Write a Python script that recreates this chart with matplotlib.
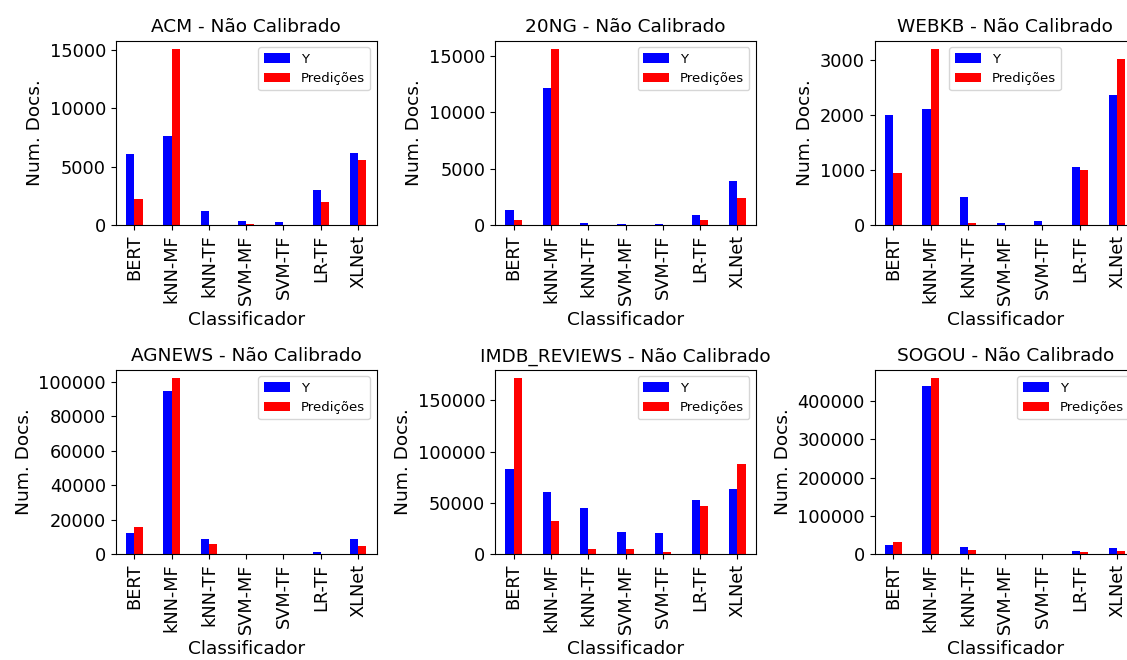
import numpy as np
import matplotlib
matplotlib.use("Agg")
import matplotlib.pyplot as plt
from matplotlib.ticker import MultipleLocator

classifiers = ["BERT", "kNN-MF", "kNN-TF", "SVM-MF", "SVM-TF", "LR-TF", "XLNet"]

titles = ["ACM", "20NG", "WEBKB", "AGNEWS", "IMDB_REVIEWS", "SOGOU"]

acm_y = [6090, 7630, 1200, 340, 260, 3000, 6170]
acm_pred = [2230, 15050, 20, 110, 10, 1970, 5570]

ng20_y = [1330, 12140, 180, 90, 90, 890, 3900]
ng20_pred = [440, 15570, 5, 5, 5, 440, 2390]

webkb_y = [2000, 2110, 510, 36, 73, 1055, 2365]
webkb_pred = [945, 3200, 36, 2, 2, 1000, 3020]

agnews_y = [12200, 94600, 8700, 50, 50, 1160, 8700]
agnews_pred = [15700, 102100, 5800, 20, 20, 150, 4650]

imdb_y = [82800, 60400, 44800, 21400, 20450, 52600, 63300]
imdb_pred = [171400, 32100, 4870, 4870, 1950, 46750, 87650]

sogou_y = [23500, 438300, 18300, 300, 300, 7800, 15650]
sogou_pred = [31300, 459100, 10400, 200, 200, 5200, 7800]

series_y = [acm_y, ng20_y, webkb_y, agnews_y, imdb_y, sogou_y]
series_pred = [acm_pred, ng20_pred, webkb_pred, agnews_pred, imdb_pred, sogou_pred]
legend_locs = ["upper right", "upper right", "upper center",
               "upper right", "upper right", "upper right"]
ytick_steps = [5000, 5000, 1000, 20000, 50000, 100000]

W, H = 1127, 660
fig = plt.figure(figsize=(W / 100, H / 100), dpi=100)

lefts = [115.7, 495.0, 874.7]
bottoms = [435.0, 106.0]
aw, ah = 261.0, 184.3

x = np.arange(len(classifiers))
bw = 0.22
for i in range(6):
    r, c = divmod(i, 3)
    ax = fig.add_axes([lefts[c] / W, bottoms[r] / H, aw / W, ah / H])
    ax.bar(x - bw / 2, series_y[i], bw, color="blue", label="Y")
    ax.bar(x + bw / 2, series_pred[i], bw, color="red", label="Predições")
    ax.set_xlim(-0.5, len(classifiers) - 0.5)
    ax.set_xticks(x)
    ax.set_xticklabels(classifiers, rotation=90, fontsize=12.8)
    ax.yaxis.set_major_locator(MultipleLocator(ytick_steps[i]))
    ax.tick_params(axis="y", labelsize=12.8)
    ax.set_title(f"{titles[i]} - Não Calibrado", fontsize=13.3)
    ax.set_xlabel("Classificador", fontsize=13.3)
    ax.set_ylabel("Num. Docs.", fontsize=13.3)
    ax.legend(loc=legend_locs[i], fontsize=9.5)

fig.savefig("out.png", dpi=100)
